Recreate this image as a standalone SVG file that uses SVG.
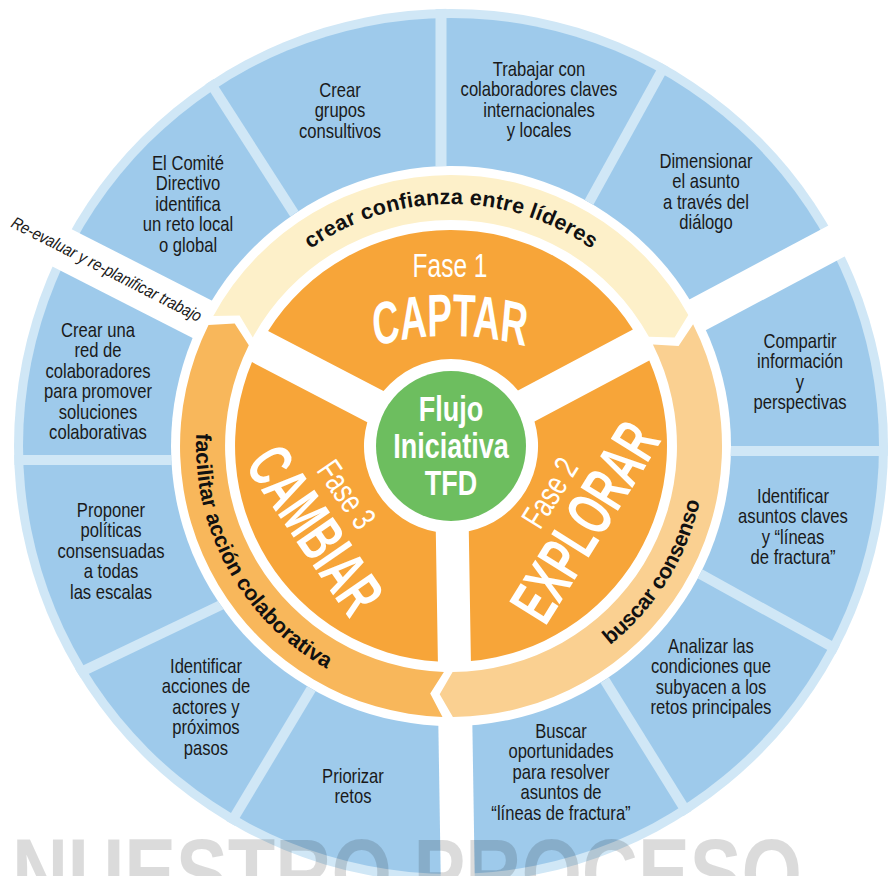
<svg xmlns="http://www.w3.org/2000/svg" width="888" height="876" viewBox="0 0 888 876">
<defs>
<style>
.seg{font-family:"Liberation Sans",Arial,sans-serif;font-size:20.5px;fill:#1a1a1a;text-anchor:middle}
.band{font-family:"Liberation Sans",Arial,sans-serif;font-size:21.5px;font-weight:bold;fill:#111;text-anchor:middle}
.fase{font-family:"Liberation Sans",Arial,sans-serif;font-size:34px;fill:#fff;text-anchor:middle}
.big{font-family:"Liberation Sans",Arial,sans-serif;font-weight:bold;fill:#fff;text-anchor:middle}
.sep{stroke:#d0e7f6;stroke-width:10;fill:none}
.gap{stroke:#fff;fill:none}
.phase{fill:#f7a539}
</style>
<clipPath id="ringClip"><path clip-rule="evenodd" d="M14 446a437 437 0 1 0 874 0a437 437 0 1 0 -874 0ZM171 446a280 280 0 1 0 560 0a280 280 0 1 0 -560 0Z"/></clipPath>
<path id="pTop" d="M209 446A242 242 0 0 1 693 446"/>
<path id="pRight" d="M442.1 700.8A255 255 0 0 0 676.1 326.3"/>
<path id="pLeft" d="M232.4 314.7A255 255 0 0 0 446.6 701"/>
<path id="pCaptar" d="M-230 375.9A461.5 300 0 0 1 230 375.9"/>
</defs>
<rect width="888" height="876" fill="#fff"/>

<g id="ring">
<circle cx="451" cy="446" r="437" fill="#d0e7f6"/>
<circle cx="451" cy="446" r="428" fill="#9ecaeb"/>
<circle cx="451" cy="446" r="280" fill="#fff"/>
<g clip-path="url(#ringClip)">
<line class="sep" x1="174.5" y1="27" x2="328.5" y2="267"/>
<line class="sep" x1="441" y1="0" x2="441" y2="220" style="stroke-width:11"/>
<line class="sep" x1="695.5" y1="9.5" x2="557.5" y2="259.5"/>
<line class="sep" x1="690" y1="451" x2="900" y2="451"/>
<line class="sep" x1="888.5" y1="678" x2="642.5" y2="542"/>
<line class="sep" x1="565.5" y1="617" x2="719.5" y2="865"/>
<line class="sep" x1="352" y1="621" x2="196" y2="881"/>
<line class="sep" x1="293" y1="570.5" x2="13" y2="704.5"/>
<line class="sep" x1="0" y1="460" x2="210" y2="460"/>
</g>
<line class="gap" x1="694.7" y1="316.4" x2="874.8" y2="220.6" stroke-width="35"/>
<line class="gap" x1="205.1" y1="320.7" x2="23.3" y2="228.1" stroke-width="42"/>
<line class="gap" x1="455.3" y1="722" x2="458.5" y2="926" stroke-width="34"/>
</g>

<g id="segments">
<g id="seg-comite" transform="translate(188 0) scale(0.81 1)"><text class="seg"><tspan x="0" y="170">El Comité</tspan><tspan x="0" y="190.5">Directivo</tspan><tspan x="0" y="211">identifica</tspan><tspan x="0" y="231.5">un reto local</tspan><tspan x="0" y="252">o global</tspan></text></g>
<g id="seg-grupos" transform="translate(340 0) scale(0.81 1)"><text class="seg"><tspan x="0" y="97">Crear</tspan><tspan x="0" y="117.5">grupos</tspan><tspan x="0" y="138">consultivos</tspan></text></g>
<g id="seg-trabajar" transform="translate(539 0) scale(0.81 1)"><text class="seg"><tspan x="0" y="76">Trabajar con</tspan><tspan x="0" y="96.5">colaboradores claves</tspan><tspan x="0" y="117">internacionales</tspan><tspan x="0" y="137.5">y locales</tspan></text></g>
<g id="seg-dimensionar" transform="translate(706 0) scale(0.81 1)"><text class="seg"><tspan x="0" y="168">Dimensionar</tspan><tspan x="0" y="188.5">el asunto</tspan><tspan x="0" y="209">a través del</tspan><tspan x="0" y="229.5">diálogo</tspan></text></g>
<g id="seg-compartir" transform="translate(800 0) scale(0.81 1)"><text class="seg"><tspan x="0" y="348">Compartir</tspan><tspan x="0" y="368.5">información</tspan><tspan x="0" y="389">y</tspan><tspan x="0" y="409.5">perspectivas</tspan></text></g>
<g id="seg-asuntos" transform="translate(793 0) scale(0.81 1)"><text class="seg"><tspan x="0" y="503">Identificar</tspan><tspan x="0" y="523.5">asuntos claves</tspan><tspan x="0" y="544">y “líneas</tspan><tspan x="0" y="564.5">de fractura”</tspan></text></g>
<g id="seg-analizar" transform="translate(711 0) scale(0.81 1)"><text class="seg"><tspan x="0" y="653">Analizar las</tspan><tspan x="0" y="673.5">condiciones que</tspan><tspan x="0" y="694">subyacen a los</tspan><tspan x="0" y="714.5">retos principales</tspan></text></g>
<g id="seg-buscar" transform="translate(561 0) scale(0.81 1)"><text class="seg"><tspan x="0" y="738">Buscar</tspan><tspan x="0" y="758.5">oportunidades</tspan><tspan x="0" y="779">para resolver</tspan><tspan x="0" y="799.5">asuntos de</tspan><tspan x="0" y="820">“líneas de fractura”</tspan></text></g>
<g id="seg-priorizar" transform="translate(353 0) scale(0.81 1)"><text class="seg"><tspan x="0" y="783">Priorizar</tspan><tspan x="0" y="803.5">retos</tspan></text></g>
<g id="seg-acciones" transform="translate(206 0) scale(0.81 1)"><text class="seg"><tspan x="0" y="673">Identificar</tspan><tspan x="0" y="693.5">acciones de</tspan><tspan x="0" y="714">actores y</tspan><tspan x="0" y="734.5">próximos</tspan><tspan x="0" y="755">pasos</tspan></text></g>
<g id="seg-proponer" transform="translate(111 0) scale(0.81 1)"><text class="seg"><tspan x="0" y="517">Proponer</tspan><tspan x="0" y="537.5">políticas</tspan><tspan x="0" y="558">consensuadas</tspan><tspan x="0" y="578.5">a todas</tspan><tspan x="0" y="599">las escalas</tspan></text></g>
<g id="seg-red" transform="translate(98 0) scale(0.81 1)"><text class="seg"><tspan x="0" y="337">Crear una</tspan><tspan x="0" y="357.5">red de</tspan><tspan x="0" y="378">colaboradores</tspan><tspan x="0" y="398.5">para promover</tspan><tspan x="0" y="419">soluciones</tspan><tspan x="0" y="439.5">colaborativas</tspan></text></g>
</g>

<text id="reevaluar" transform="translate(10 226.5) rotate(27)" font-family="'Liberation Sans',Arial,sans-serif" font-style="italic" font-size="17" fill="#1a1a1a" textLength="211" lengthAdjust="spacingAndGlyphs">Re-evaluar y re-planificar trabajo</text>

<g id="connectors">
<g id="band-top">
<path fill="#fdf0c9" d="M213.3 315.9A271 271 0 0 1 688.3 315L674.6 337.5L648.9 336.8A226 226 0 0 0 252.8 337.5L239.6 315.4Z"/>
<text class="band" letter-spacing="0.3"><textPath href="#pTop" startOffset="50%">crear confianza entre líderes</textPath></text>
</g>
<g id="band-right">
<path fill="#fad091" d="M693.1 324.2A271 271 0 0 1 452.9 717L439.7 694.2L452.6 672A226 226 0 0 0 652.9 344.5L678.6 346.1Z"/>
<text class="band" letter-spacing="-0.3"><textPath href="#pRight" startOffset="50%">buscar consenso</textPath></text>
</g>
<g id="band-left">
<path fill="#f8b75b" d="M442.5 716.9A271 271 0 0 1 208.5 325.1L234.7 323.6L248.8 345.2A226 226 0 0 0 443.9 671.9L430.2 693.6Z"/>
<text class="band"><textPath href="#pLeft" startOffset="50%">facilitar acción colaborativa</textPath></text>
</g>
</g>

<g id="phase-captar">
<path class="phase" d="M268.1 331.1A216 216 0 0 1 632.9 329.5L518 390.5A87 87 0 0 0 383.5 391.1Z"/>
<g transform="translate(450 0) scale(0.72 1)"><text class="fase" x="0" y="277">Fase 1</text></g>
<g transform="translate(450 0) scale(0.62 1)"><text class="big" font-size="60"><textPath href="#pCaptar" startOffset="50%">CAPTAR</textPath></text></g>
</g>
<g id="phase-explorar">
<path class="phase" d="M649.3 360.4A216 216 0 0 1 470.9 661.1L468.8 531.2A87 87 0 0 0 534.5 421.4Z"/>
<g transform="translate(582 520) rotate(-58)">
<g transform="scale(0.62 1)"><text class="big" font-size="64" x="0" y="25.5">EXPLORAR</text></g>
<g transform="translate(6 -30) scale(0.72 1)"><text class="fase" x="0" y="0">Fase 2</text></g>
</g>
</g>
<g id="phase-cambiar">
<path class="phase" d="M437.9 661.6A216 216 0 0 1 252 362.1L367.3 422.2A87 87 0 0 0 435.8 531.7Z"/>
<g transform="translate(318 528) rotate(55.5)">
<g transform="scale(0.62 1)"><text class="big" font-size="64" x="0" y="25.5">CAMBIAR</text></g>
<g transform="translate(-11.5 -31) scale(0.72 1)"><text class="fase" x="0" y="0">Fase 3</text></g>
</g>
</g>

<g id="center">
<circle cx="451" cy="446" r="75" fill="#6dbe5f"/>
<g transform="translate(451 0) scale(0.77 1)"><text class="big" font-size="35"><tspan x="0" y="421">Flujo</tspan><tspan x="0" y="458">Iniciativa</tspan><tspan x="0" y="495">TFD</tspan></text></g>
</g>

<text id="title" x="12" y="906" font-family="'Liberation Sans',Arial,sans-serif" font-weight="bold" font-size="96" fill="#000" fill-opacity="0.14" textLength="790" lengthAdjust="spacingAndGlyphs">NUESTRO PROCESO</text>
</svg>
